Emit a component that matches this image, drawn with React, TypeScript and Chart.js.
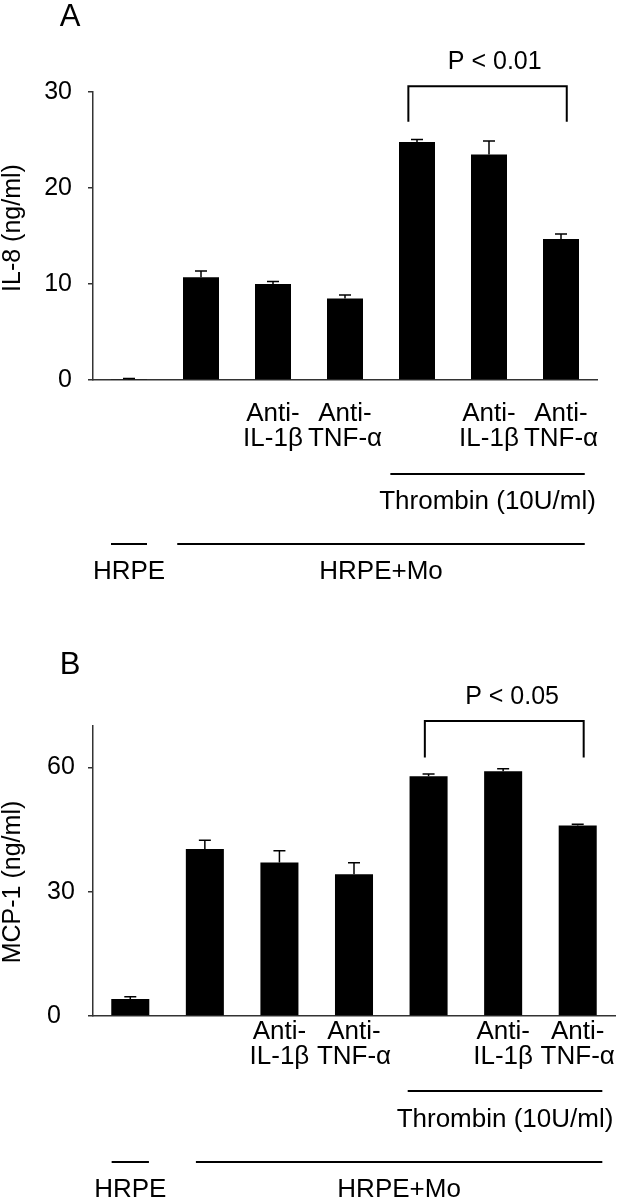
import React, { useEffect, useRef } from 'react';
import { Chart, registerables } from 'chart.js';

Chart.register(...registerables);

// ---------- data ----------
const categoryKeys = ['HRPE', 'HRPE+Mo', 'HRPE+Mo+Anti-IL-1β', 'HRPE+Mo+Anti-TNF-α', 'HRPE+Mo+Thrombin', 'HRPE+Mo+Thrombin+Anti-IL-1β', 'HRPE+Mo+Thrombin+Anti-TNF-α'];
const tickLabels: string[][] = [
  ['', ''],
  ['', ''],
  ['Anti-', 'IL-1β'],
  ['Anti-', 'TNF-α'],
  ['', ''],
  ['Anti-', 'IL-1β'],
  ['Anti-', 'TNF-α'],
];

const il8Values = [0.05, 10.7, 10.0, 8.5, 24.8, 23.5, 14.7];
const il8Errors = [0.1, 0.65, 0.25, 0.35, 0.25, 1.4, 0.5];
const il8Ticks = [0, 10, 20, 30];

const mcp1Values = [4.1, 40.3, 37.05, 34.2, 57.9, 59.1, 46.0];
const mcp1Errors = [0.55, 2.1, 2.85, 2.8, 0.5, 0.6, 0.3];
const mcp1Ticks = [0, 30, 60];

const groupLabels = ['HRPE', 'HRPE+Mo'];
const groupFirst = [0, 1];
const groupLast = [0, 6];
const thrombinLabel = 'Thrombin (10U/ml)';
const thrombinFirst = 4;
const thrombinLast = 6;
const compareFirst = 4;
const compareLast = 6;
const pTextA = 'P < 0.01';
const pTextB = 'P < 0.05';

// ---------- style ----------
const FONT = "'Liberation Sans', Arial, Helvetica, sans-serif";
const AXIS = '#333';

type Panel = {
  letter: string;
  yTitle: string;
  values: number[];
  errors: number[];
  ticks: number[];
  yMax: number;
  pText: string;
  height: number;
  top: number;
  pad: { top: number; right: number; left: number };
  yWidth: number;
  crossAlign: 'near' | 'far';
  yTickPad: number;
  xHeight: number;
  xTickPad: number;
  barPct: number;
  letterPos: [number, number];
  yTitlePos: [number, number];
  bracket: { from: number; to: number; topVal: number; armVal: number; textVal: number; textIdx: number };
  groupSpan: number[][];
  thrombinSpan: number[];
  lines: { thrombinLine: number; thrombinText: number; groupLine: number; groupText: number };
};

const panels: Panel[] = [
  {
    letter: 'A', yTitle: 'IL-8 (ng/ml)', values: il8Values, errors: il8Errors, ticks: il8Ticks, yMax: 30, pText: pTextA,
    height: 620, top: 0,
    pad: { top: 92, right: 32, left: 0 }, yWidth: 93, crossAlign: 'near', yTickPad: 16,
    xHeight: 240, xTickPad: 21, barPct: 0.5,
    letterPos: [70, 17], yTitlePos: [13, 228],
    bracket: { from: compareFirst - 0.12, to: compareLast + 0.08, topVal: 30.6, armVal: 26.9, textVal: 33.1, textIdx: 5.08 },
    groupSpan: [[-0.25, 0.25], [-0.33, 0.33]], thrombinSpan: [-0.37, 0.33],
    lines: { thrombinLine: 94, thrombinText: 122, groupLine: 164, groupText: 192 },
  },
  {
    letter: 'B', yTitle: 'MCP-1 (ng/ml)', values: mcp1Values, errors: mcp1Errors, ticks: mcp1Ticks, yMax: 70, pText: pTextB,
    height: 579, top: 620,
    pad: { top: 106, right: 14, left: 47 }, yWidth: 46, crossAlign: 'far', yTickPad: 16,
    xHeight: 183, xTickPad: 3, barPct: 0.51,
    letterPos: [70, 45], yTitlePos: [13, 262],
    bracket: { from: compareFirst - 0.05, to: compareLast + 0.08, topVal: 71.2, armVal: 62.4, textVal: 77, textIdx: 5.12 },
    groupSpan: [[-0.25, 0.25], [-0.12, 0.33]], thrombinSpan: [-0.28, 0.33],
    lines: { thrombinLine: 75, thrombinText: 104, groupLine: 146, groupText: 174 },
  },
];

function makeOverlay(p: Panel) {
  return {
    id: 'overlay' + p.letter,
    afterDraw(chart: any) {
      const ctx = chart.ctx as CanvasRenderingContext2D;
      const xs = chart.scales.x;
      const ys = chart.scales.y;
      const area = chart.chartArea;
      ctx.save();
      ctx.strokeStyle = '#000';
      ctx.fillStyle = '#000';

      // error bars (upper only)
      ctx.lineWidth = 1.5;
      p.values.forEach((v, i) => {
        const px = xs.getPixelForValue(i);
        const y0 = ys.getPixelForValue(v);
        const y1 = ys.getPixelForValue(v + p.errors[i]);
        ctx.beginPath();
        ctx.moveTo(px, y0);
        ctx.lineTo(px, y1);
        ctx.moveTo(px - 6, y1);
        ctx.lineTo(px + 6, y1);
        ctx.stroke();
      });

      // significance bracket
      const b = p.bracket;
      const bx0 = xs.getPixelForValue(b.from);
      const bx1 = xs.getPixelForValue(b.to);
      const by = ys.getPixelForValue(b.topVal);
      const ba = ys.getPixelForValue(b.armVal);
      ctx.lineWidth = 2;
      ctx.beginPath();
      ctx.moveTo(bx0, ba);
      ctx.lineTo(bx0, by);
      ctx.lineTo(bx1, by);
      ctx.lineTo(bx1, ba);
      ctx.stroke();
      ctx.font = `25px ${FONT}`;
      ctx.textAlign = 'center';
      ctx.textBaseline = 'middle';
      ctx.fillText(p.pText, xs.getPixelForValue(b.textIdx), ys.getPixelForValue(b.textVal));

      // panel letter
      ctx.font = `31px ${FONT}`;
      ctx.fillText(p.letter, p.letterPos[0], p.letterPos[1]);

      // y title
      ctx.save();
      ctx.translate(p.yTitlePos[0], p.yTitlePos[1]);
      ctx.rotate(-Math.PI / 2);
      ctx.font = `25px ${FONT}`;
      ctx.fillText(p.yTitle, 0, 0);
      ctx.restore();

      // thrombin line and label
      const base = area.bottom;
      ctx.lineWidth = 2;
      const tx0 = xs.getPixelForValue(thrombinFirst + p.thrombinSpan[0]);
      const tx1 = xs.getPixelForValue(thrombinLast + p.thrombinSpan[1]);
      ctx.beginPath();
      ctx.moveTo(tx0, base + p.lines.thrombinLine);
      ctx.lineTo(tx1, base + p.lines.thrombinLine);
      ctx.stroke();
      ctx.font = `26px ${FONT}`;
      ctx.fillText(thrombinLabel, (tx0 + tx1) / 2, base + p.lines.thrombinText);

      // group lines and labels
      groupLabels.forEach((lab, g) => {
        const gx0 = xs.getPixelForValue(groupFirst[g] + p.groupSpan[g][0]);
        const gx1 = xs.getPixelForValue(groupLast[g] + p.groupSpan[g][1]);
        ctx.beginPath();
        ctx.moveTo(gx0, base + p.lines.groupLine);
        ctx.lineTo(gx1, base + p.lines.groupLine);
        ctx.stroke();
        ctx.fillText(lab, (gx0 + gx1) / 2, base + p.lines.groupText);
      });

      ctx.restore();
    },
  };
}

function PanelChart({ p }: { p: Panel }) {
  const ref = useRef<HTMLCanvasElement | null>(null);
  useEffect(() => {
    if (!ref.current) return;
    const chart = new Chart(ref.current, {
      type: 'bar',
      data: {
        labels: tickLabels,
        datasets: [
          {
            label: p.yTitle,
            data: p.values,
            backgroundColor: '#000',
            borderWidth: 0,
            barPercentage: p.barPct,
            categoryPercentage: 1,
          },
        ],
      },
      options: {
        responsive: false,
        animation: false,
        devicePixelRatio: 1,
        layout: { padding: { top: p.pad.top, right: p.pad.right, left: p.pad.left, bottom: 0 } },
        plugins: { legend: { display: false }, tooltip: { enabled: false }, title: { display: false } },
        scales: {
          x: {
            type: 'category',
            offset: true,
            grid: { display: false, drawTicks: false },
            border: { display: true, color: AXIS, width: 1.5 },
            ticks: {
              autoSkip: false,
              maxRotation: 0,
              minRotation: 0,
              padding: p.xTickPad,
              color: '#000',
              font: { family: FONT, size: 26, lineHeight: '25px' },
            },
            afterFit: (s: any) => { s.height = p.xHeight; },
          },
          y: {
            type: 'linear',
            min: 0,
            max: p.yMax,
            grid: { display: true, drawOnChartArea: false, drawTicks: true, tickLength: 5, color: AXIS, lineWidth: 1.5 },
            border: { display: true, color: AXIS, width: 1.5 },
            ticks: {
              color: '#000',
              padding: p.yTickPad,
              crossAlign: p.crossAlign,
              font: { family: FONT, size: 25 },
            },
            afterBuildTicks: (s: any) => { s.ticks = p.ticks.map((v) => ({ value: v })); },
            afterFit: (s: any) => { s.width = p.yWidth; },
          },
        },
      },
      plugins: [makeOverlay(p)],
    } as any);
    return () => chart.destroy();
  }, [p]);
  return (
    <canvas
      ref={ref}
      width={629}
      height={p.height}
      style={{ position: 'absolute', left: 0, top: p.top, width: 629, height: p.height, display: 'block' }}
    />
  );
}

export default function App() {
  return (
    <div style={{ position: 'absolute', left: 0, top: 0, width: 629, height: 1199, background: '#fff', overflow: 'hidden' }}>
      {panels.map((p) => (
        <PanelChart key={p.letter} p={p} />
      ))}
    </div>
  );
}
